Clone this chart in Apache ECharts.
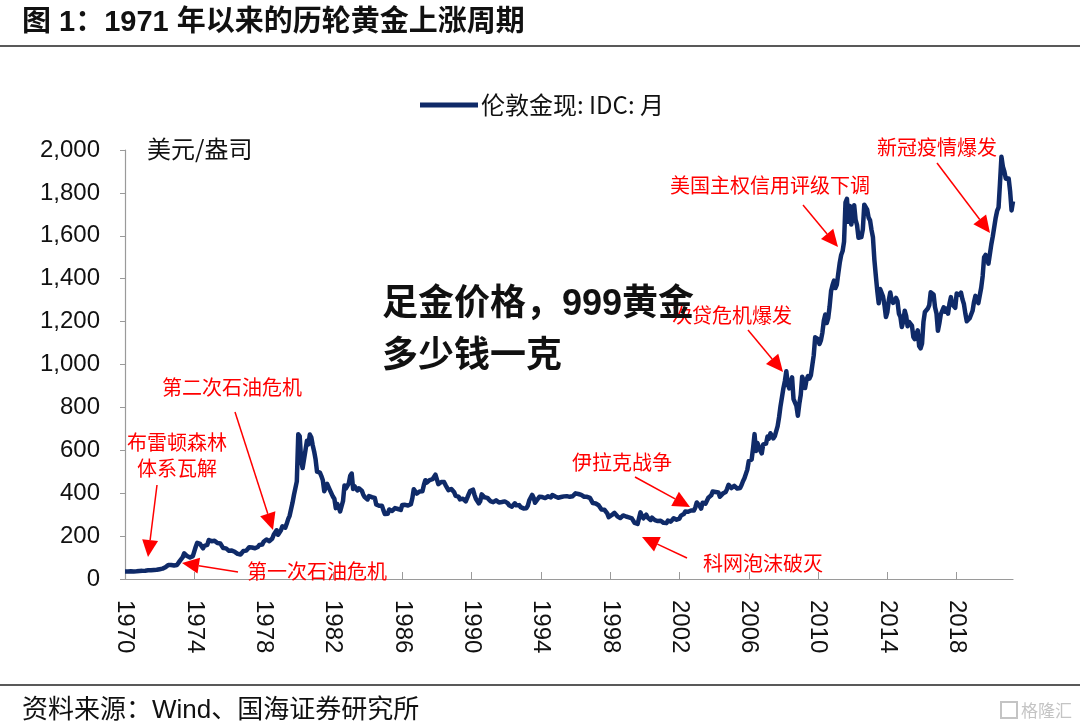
<!DOCTYPE html>
<html><head><meta charset="utf-8">
<script src="https://cdn.jsdelivr.net/npm/echarts@6/dist/echarts.min.js"></script>
<style>html,body{margin:0;padding:0;background:#fff}#c{width:1080px;height:727px}</style>
</head><body><div id="c"></div>
<script>
// Monthly London gold spot (USD/oz), monthly averages
const gold1970s = [
34.9,35.0,35.1,35.6,35.9,35.4,35.3,35.4,36.2,37.5,37.4,37.4,
37.9,38.7,38.9,39.0,40.5,40.1,41.0,42.7,42.0,42.5,42.9,43.5,
45.8,48.3,48.3,49.0,54.6,62.1,65.7,67.0,65.5,64.9,62.9,63.9,
65.1,74.2,84.4,90.5,102.0,120.1,120.4,106.8,103.0,100.1,94.8,106.7,
129.2,150.2,168.4,172.2,163.3,154.1,143.0,154.6,151.8,158.8,181.7,183.9,
176.3,179.6,178.2,170.1,167.4,164.2,165.2,163.0,144.1,142.8,142.8,139.3,
131.2,131.0,132.6,128.2,126.9,125.8,117.6,109.5,114.4,116.2,130.4,133.6,
132.3,136.3,148.2,149.1,146.7,140.8,143.4,144.8,149.4,158.8,162.0,160.5,
173.2,178.2,183.7,175.3,176.3,183.7,188.7,206.3,212.8,227.3,206.2,207.8,
227.3,245.7,242.1,239.2,257.3,279.1,294.7,300.8,355.2,391.7,391.7,455.1];
const gold1980s = [
675.3,665.3,553.6,517.4,513.8,600.7,644.3,627.2,673.6,661.1,623.5,594.9,
557.5,500.5,499.8,495.8,480.1,460.8,409.3,410.2,443.6,437.8,413.4,410.1,
384.1,374.2,330.4,350.5,334.3,314.8,339.1,364.0,435.7,422.5,414.3,445.7,
481.3,491.8,419.7,432.9,438.4,413.0,422.6,416.4,411.9,393.8,382.1,388.2,
370.9,386.8,394.5,381.4,377.7,378.2,347.6,348.0,341.1,340.2,341.2,320.0,
302.7,299.0,304.0,324.1,316.4,316.8,316.7,330.5,323.5,326.3,325.3,321.9,
345.4,338.9,345.7,340.4,342.4,342.6,348.8,376.5,418.6,423.5,398.2,391.5,
408.2,401.0,408.9,438.2,460.6,449.6,450.3,461.3,460.2,465.4,466.4,486.3,
477.4,442.1,443.6,452.2,451.5,451.7,437.8,431.4,414.1,406.7,419.8,419.1,
404.2,387.8,390.1,384.1,371.3,367.6,374.6,365.4,361.6,366.9,394.3,409.8];
const gold1990s = [
410.2,416.6,393.1,374.3,369.1,352.3,362.5,394.7,389.0,380.8,381.9,378.2,
383.6,363.3,363.3,358.4,356.8,366.7,367.7,356.4,348.7,358.7,360.0,361.7,
354.5,353.9,344.3,338.6,337.4,340.8,353.1,343.3,345.4,344.4,335.0,334.7,
329.0,329.3,330.1,342.2,367.2,371.6,392.1,378.9,355.4,364.0,373.9,383.3,
386.9,382.0,384.0,377.3,381.4,385.6,385.6,380.4,391.6,389.8,384.4,379.5,
378.6,376.5,382.1,391.0,385.2,387.6,386.2,383.7,383.1,383.1,385.9,387.5,
399.4,404.8,396.2,392.9,391.9,385.3,383.5,387.5,383.1,381.1,377.9,369.2,
354.1,346.6,351.8,344.5,343.8,340.8,324.0,324.0,322.8,324.9,306.0,288.6,
289.1,297.5,295.9,308.4,299.1,292.3,292.9,284.1,289.0,296.2,294.1,291.4,
287.3,287.3,285.9,282.6,276.4,261.4,256.2,256.7,264.7,310.7,293.2,283.1];
const gold2000s = [
284.6,299.9,286.4,280.0,275.3,285.7,281.6,274.5,273.7,270.0,266.0,271.5,
265.5,261.9,263.0,260.5,272.4,270.2,267.5,272.4,283.4,283.1,276.2,275.9,
281.7,295.5,294.0,302.7,314.5,321.2,313.3,310.3,319.2,316.6,319.2,333.4,
356.9,359.0,340.6,328.2,355.7,356.4,351.0,359.8,379.0,378.9,389.9,407.6,
414.0,405.3,406.7,403.0,383.4,392.0,398.1,400.5,405.3,420.5,439.4,442.1,
424.0,423.4,434.2,428.9,421.9,430.7,424.5,437.9,456.0,469.9,476.7,509.8,
549.9,555.0,557.1,610.6,675.4,596.2,633.7,632.6,598.2,585.8,627.8,629.8,
631.2,664.7,654.9,679.4,667.3,655.5,665.3,665.4,712.7,754.6,806.3,803.2,
889.6,922.3,968.4,909.7,888.7,889.5,939.8,839.0,829.9,806.6,760.9,816.1,
858.7,943.2,924.3,890.2,928.6,945.7,934.2,949.4,996.6,1043.2,1127.0,1134.7];
const gold2010s = [
1117.9,1095.4,1113.3,1148.7,1205.4,1232.9,1193.0,1215.8,1270.9,1342.0,1369.9,1391.0,
1356.4,1372.7,1424.0,1473.8,1510.4,1528.7,1572.8,1755.8,1771.9,1665.2,1739.0,1652.3,
1656.1,1742.6,1673.8,1649.7,1591.2,1598.8,1594.3,1630.3,1744.8,1746.6,1721.6,1684.8,
1671.9,1627.6,1593.1,1487.9,1414.0,1343.4,1285.5,1351.7,1348.6,1316.6,1275.8,1221.5,
1244.3,1300.0,1336.1,1299.0,1287.5,1279.1,1310.6,1295.1,1236.6,1222.5,1175.3,1200.6,
1250.8,1227.1,1178.6,1198.9,1198.6,1181.5,1128.3,1117.9,1124.8,1159.3,1086.4,1075.7,
1097.9,1199.5,1245.1,1242.3,1260.9,1276.4,1336.7,1340.2,1326.6,1266.6,1238.4,1157.4,
1192.1,1234.2,1231.1,1266.9,1246.0,1260.3,1236.8,1283.0,1314.1,1279.5,1281.9,1264.5,
1331.3,1330.7,1324.7,1334.8,1303.5,1282.0,1237.7,1201.7,1198.4,1215.4,1220.7,1250.4,
1291.8,1320.1,1300.9,1285.9,1283.7,1359.0,1412.9,1500.4,1510.6,1494.8,1470.0,1479.1];
const gold2020s = [
1560.7,1597.1,1591.9,1683.2,1715.9,1732.2,1846.5,1968.6,1921.9,1900.3,1866.3,1858.4,
1867.0,1808.2,1718.2,1760.0];

const startYear = 1970;
const yearTickStep = 4;          // x tick labels every 4 years
const yTicks = [0, 200, 400, 600, 800, 1000, 1200, 1400, 1600, 1800, 2000];
const seriesName = '伦敦金现: IDC: 月';

const values = [].concat(gold1970s, gold1980s, gold1990s, gold2000s, gold2010s, gold2020s);
const months = values.map((v, i) => {
  const y = startYear + Math.floor(i / 12), m = i % 12 + 1;
  return y + '-' + (m < 10 ? '0' + m : m);
});

const RED = '#ff0000';
const NAVY = '#0f2a68';
const CJK = '"Noto Sans CJK SC", sans-serif';
const LAT = '"Liberation Sans", "Noto Sans CJK SC", sans-serif';

function arrow(x1, y1, x2, y2) {
  const dx = x2 - x1, dy = y2 - y1, L = Math.hypot(dx, dy), ux = dx / L, uy = dy / L;
  const hl = 17, hw = 8;
  const bx = x2 - ux * hl, by = y2 - uy * hl;
  return [
    {type: 'line', z: 50, shape: {x1: x1, y1: y1, x2: bx, y2: by}, style: {stroke: RED, lineWidth: 1.5}},
    {type: 'polygon', z: 50, shape: {points: [[x2, y2], [bx - uy * hw, by + ux * hw], [bx + uy * hw, by - ux * hw]]}, style: {fill: RED}}
  ];
}
function note(text, x, y) {
  return {type: 'text', z: 50, x: x, y: y, style: {text: text, fill: RED, font: '20px ' + CJK, align: 'left', verticalAlign: 'middle'}};
}

const graphics = [
  {type: 'text', x: 22, y: 23, style: {text: '图 1：1971 年以来的历轮黄金上涨周期', fill: '#111', font: 'bold 29px ' + LAT, align: 'left', verticalAlign: 'middle'}},
  {type: 'line', shape: {x1: 0, y1: 46, x2: 1080, y2: 46}, style: {stroke: '#222', lineWidth: 1.5}},
  {type: 'line', shape: {x1: 0, y1: 685, x2: 1080, y2: 685}, style: {stroke: '#222', lineWidth: 1.5}},
  {type: 'text', x: 22, y: 711, style: {text: '资料来源：Wind、国海证券研究所', fill: '#111', font: '26px ' + LAT, align: 'left', verticalAlign: 'middle'}},
  {type: 'rect', shape: {x: 1001, y: 702, width: 16, height: 16}, style: {fill: 'none', stroke: '#c4c4c4', lineWidth: 2}},
  {type: 'text', x: 1021, y: 711, style: {text: '格隆汇', fill: '#c4c4c4', font: '17px ' + CJK, align: 'left', verticalAlign: 'middle'}},
  {type: 'text', x: 147, y: 149, style: {text: '美元/盎司', fill: '#111', font: '24px ' + CJK, align: 'left', verticalAlign: 'middle'}},
  note('第二次石油危机', 162, 387),
  note('布雷顿森林', 127, 442),
  note('体系瓦解', 137, 468),
  note('第一次石油危机', 247, 571),
  note('伊拉克战争', 572, 462),
  note('科网泡沫破灭', 703, 563),
  note('次贷危机爆发', 672, 315),
  note('美国主权信用评级下调', 670, 185),
  note('新冠疫情爆发', 877, 147)
].concat(
  arrow(157, 485, 148, 557),
  arrow(235, 412, 273, 530),
  arrow(238, 572, 182, 563),
  arrow(635, 477, 690, 507),
  arrow(687, 558, 642, 537),
  arrow(748, 330, 783, 372),
  arrow(803, 205, 838, 247),
  arrow(937, 163, 990, 233),
  [
    {type: 'text', z: 100, x: 382, y: 305, style: {text: '足金价格，999黄金', fill: '#111', font: 'bold 36px ' + LAT, align: 'left', verticalAlign: 'middle'}},
    {type: 'text', z: 100, x: 382, y: 357, style: {text: '多少钱一克', fill: '#111', font: 'bold 36px ' + LAT, align: 'left', verticalAlign: 'middle'}}
  ]
);

const chart = echarts.init(document.getElementById('c'), null, {renderer: 'canvas'});
chart.setOption({
  animation: false,
  backgroundColor: '#fff',
  grid: {left: 125, right: 67, top: 150, bottom: 148, containLabel: false},
  legend: {
    data: [seriesName], left: 415, top: 88, icon: 'rect', itemWidth: 58, itemHeight: 5, itemGap: 10,
    textStyle: {fontSize: 24, color: '#111', fontFamily: CJK, padding: [0, 0, 0, -2]}
  },
  xAxis: {
    type: 'category', data: months, boundaryGap: false,
    axisLine: {lineStyle: {color: '#9a9a9a', width: 1.2}},
    axisTick: {show: true, inside: true, length: 7, interval: (i) => i % (12 * yearTickStep) === 0, lineStyle: {color: '#9a9a9a'}},
    axisLabel: {
      interval: (i) => i % (12 * yearTickStep) === 0,
      formatter: (v) => v.slice(0, 4), rotate: -90, margin: 21,
      fontSize: 24, color: '#111', fontFamily: LAT
    },
    splitLine: {show: false}
  },
  yAxis: {
    type: 'value', min: yTicks[0], max: yTicks[yTicks.length - 1], interval: yTicks[1] - yTicks[0],
    axisLine: {show: true, lineStyle: {color: '#9a9a9a', width: 1.2}},
    axisTick: {show: true, inside: false, length: 5, lineStyle: {color: '#9a9a9a'}},
    axisLabel: {formatter: (v) => v.toLocaleString('en-US'), fontSize: 24, color: '#111', margin: 25, fontFamily: LAT},
    splitLine: {show: false}
  },
  series: [{
    name: seriesName, type: 'line', data: values, showSymbol: false, symbol: 'none',
    lineStyle: {color: NAVY, width: 4.5, join: 'round'}, itemStyle: {color: NAVY}, z: 5
  }],
  graphic: graphics
});
</script></body></html>
